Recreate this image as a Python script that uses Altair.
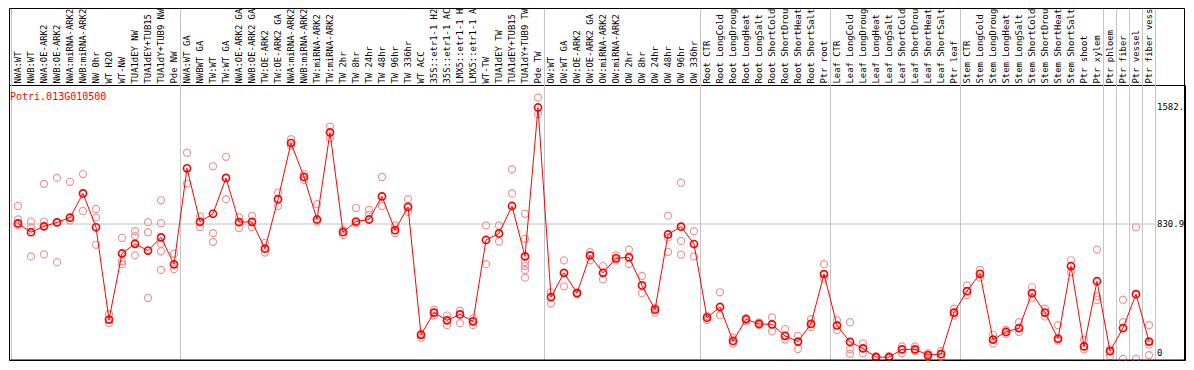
import numpy as np
import pandas as pd
import altair as alt

labels = [
    "NWA:WT", "NWB:WT", "NWA:OE-ARK2", "NWB:OE-ARK2", "NWA:miRNA-ARK2", "NWB:miRNA-ARK2",
    "NW 0hr", "WT H2O", "WT-NW", "TUA1dEY NW", "TUA1dEY+TUB15 ", "TUA1dY+TUB9 NW", "Pde NW",
    "NWA:WT GA", "NWBWT GA", "TW:WT", "TW:WT GA", "NWA:OE-ARK2 GA", "NWB:OE-ARK2 GA",
    "TW:OE-ARK2", "TW:OE-ARK2 GA", "NWA:miRNA-ARK2", "NWB:miRNA-ARK2", "TW:miRNA-ARK2",
    "TW:miRNA-ARK2", "TW 2hr", "TW 8hr", "TW 24hr", "TW 48hr", "TW 96hr", "TW 336hr",
    "WT ACC", "35S::etr1-1 H2", "35S::etr1-1 AC", "LMX5::etr1-1 H", "LMX5::etr1-1 A",
    "WT-TW", "TUA1dEY TW", "TUA1dEY+TUB15 ", "TUA1dY+TUB9 TW", "Pde TW",
    "OW:WT", "OW:WT GA", "OW:OE-ARK2", "OW:OE-ARK2 GA", "OW:miRNA-ARK2", "OW:miRNA-ARK2",
    "OW 2hr", "OW 8hr", "OW 24hr", "OW 48hr", "OW 96hr", "OW 336hr",
    "Root CTR", "Root LongCold", "Root LongDroug", "Root LongHeat", "Root LongSalt",
    "Root ShortCold", "Root ShortDrou", "Root ShortHeat", "Root ShortSalt", "Ptr root",
    "Leaf CTR", "Leaf LongCold", "Leaf LongDroug", "Leaf LongHeat", "Leaf LongSalt",
    "Leaf ShortCold", "Leaf ShortDrou", "Leaf ShortHeat", "Leaf ShortSalt", "Ptr leaf",
    "Stem CTR", "Stem LongCold", "Stem LongDroug", "Stem LongHeat", "Stem LongSalt",
    "Stem ShortCold", "Stem ShortDrou", "Stem ShortHeat", "Stem ShortSalt", "Ptr shoot",
    "Ptr xylem", "Ptr phloem", "Ptr fiber", "Ptr vessel", "Ptr fiber vess",
]

means = [
    835, 778, 816, 841, 872, 1028, 810, 215, 641, 703, 660, 745, 571,
    1190, 845, 897, 1128, 843, 845, 672, 991, 1353, 1134, 860, 1421, 778, 847, 860,
    1009, 791, 941, 117, 260, 210, 248, 204, 728, 770, 947, 622, 1582,
    360, 516, 385, 629, 516, 610, 616, 435, 279, 764, 814, 702,
    227, 296, 77, 217, 187, 184, 110, 73, 187, 508,
    177, 71, 29, -27, -27, 23, 23, -14, -8, 260,
    398, 510, 86, 135, 160, 385, 260, 92, 560, 42, 462,
    11, 160, 379, 73,
]

reps = [
    [947, 860, 822], [847, 810, 622], [1090, 847, 635], [1128, 841, 585], [1103, 853],
    [1153, 915], [928, 872, 697], [250, 193], [741, 591, 572], [785, 753, 629],
    [843, 778, 354], [984, 836, 703, 655, 535], [640, 540],
    [1290, 1092], [880, 811], [1203, 772, 716], [1264, 991], [874, 805], [884, 811],
    [710, 647], [1034, 947], [1378, 1335], [1153, 1115], [959, 847], [1459, 1384],
    [791, 759], [934, 835], [922, 891], [1134, 947], [822, 772], [991, 910],
    [123, 98], [279, 241], [241, 179], [273, 192], [223, 179], [822, 572], [822, 718],
    [1184, 1028], [897, 735, 585, 560, 535, 485], [1646, 1540],
    [391, 318], [597, 429], [391, 379], [649, 597], [560, 474], [629, 597],
    [666, 572], [497, 385], [291, 260], [885, 743, 652], [1097, 722, 633], [785, 622],
    [237, 212], [391, 243], [98, 61], [223, 204], [197, 179], [229, 140], [154, 86],
    [110, 25], [217, 167], [572, 479],
    [210, 148], [198, 23, -6], [61, -2], [-21, -33], [-21, -33], [42, -2], [42, 11],
    [-2, -27], [11, -27], [285, 241],
    [435, 373], [535, 485], [117, 61], [148, 123], [198, 135], [423, 354], [285, 235],
    [179, 79], [597, 522], [86, 23], [666, 365, 341],
    [23, -21], [343, 198, -39], [810, -39], [179, 54, -14],
]

group_sizes = [13, 28, 12, 10, 10, 11, 1, 1, 1, 1]
hline_values = [830.9]
ytick_values = [0, 830.9, 1582]
ytick_labels = ["0", "830.9", "1582."]
gene_title = "Potri.013G010500"

FONT = "DejaVu Sans Mono"
W, H, TOP = 1176, 275, 77
n = len(labels)

mean_df = pd.DataFrame({"k": list(range(n)), "v": means})
rep_df = pd.DataFrame([{"k": k, "v": v} for k, vs in enumerate(reps) for v in vs])
lab_df = pd.DataFrame({"k": list(range(n)), "label": labels})
bounds = [-0.5] + [float(b) - 0.5 for b in np.cumsum(group_sizes)]
bound_df = pd.DataFrame({"b": bounds})
hline_df = pd.DataFrame({"h": hline_values})
ytick_df = pd.DataFrame({"v": ytick_values, "label": ytick_labels})
title_df = pd.DataFrame({"t": [gene_title]})
frame_df = pd.DataFrame({"a": [0]})

xscale = alt.Scale(domain=[-0.6923, 89.769], nice=False, zero=False)
yscale = alt.Scale(domain=[-45.6, 1727], nice=False, zero=False)

vlines = alt.Chart(bound_df).mark_rule(color="#C4C4C4", strokeWidth=1).encode(
    x=alt.X("b:Q", scale=xscale, axis=None),
    y=alt.value(-TOP),
    y2=alt.value(H),
)
hlines = alt.Chart(hline_df).mark_rule(color="#C4C4C4", strokeWidth=1).encode(
    y=alt.Y("h:Q", scale=yscale, axis=None),
    x=alt.value(0),
    x2=alt.value(W - 29),
)
rep_pts = alt.Chart(rep_df).mark_point(
    shape="circle", filled=False, size=50, stroke="#EE9595", strokeWidth=1.2, opacity=1
).encode(
    x=alt.X("k:Q", scale=xscale, axis=None),
    y=alt.Y("v:Q", scale=yscale, axis=None),
)
line = alt.Chart(mean_df).mark_line(color="#FF0000", strokeWidth=1).encode(
    x=alt.X("k:Q", scale=xscale, axis=None),
    y=alt.Y("v:Q", scale=yscale, axis=None),
)
mean_pts = alt.Chart(mean_df).mark_point(
    shape="circle", filled=False, size=50, stroke="#FF0000", strokeWidth=1.7, opacity=1
).encode(
    x=alt.X("k:Q", scale=xscale, axis=None),
    y=alt.Y("v:Q", scale=yscale, axis=None),
)
top_labels = alt.Chart(lab_df).mark_text(
    angle=270, align="left", baseline="middle", font=FONT, fontSize=8.9, color="black"
).encode(
    x=alt.X("k:Q", scale=xscale, axis=None),
    y=alt.value(-1.5),
    text="label:N",
)
right_labels = alt.Chart(ytick_df).mark_text(
    align="left", baseline="middle", font=FONT, fontSize=9, color="black"
).encode(
    x=alt.value(W - 28),
    y=alt.Y("v:Q", scale=yscale, axis=None),
    text="label:N",
)
title_txt = alt.Chart(title_df).mark_text(
    align="left", baseline="middle", color="#FF0000", font=FONT, fontSize=10
).encode(x=alt.value(1), y=alt.value(11.5), text="t:N")
frame = alt.Chart(frame_df).mark_rect(
    fillOpacity=0, stroke="black", strokeWidth=1
).encode(
    x=alt.value(0.5), x2=alt.value(W - 0.5), y=alt.value(-TOP + 0.5), y2=alt.value(H)
)

chart = alt.layer(
    vlines, hlines, rep_pts, line, mean_pts, top_labels, right_labels, title_txt, frame
).properties(
    width=W, height=H,
    autosize=alt.AutoSizeParams(type="none"),
    padding={"left": 1, "top": TOP, "right": 1, "bottom": 1},
    background="white",
).configure_view(stroke="black", strokeWidth=1)

chart.save("out.html", embed_options={"renderer": "svg", "actions": False})
